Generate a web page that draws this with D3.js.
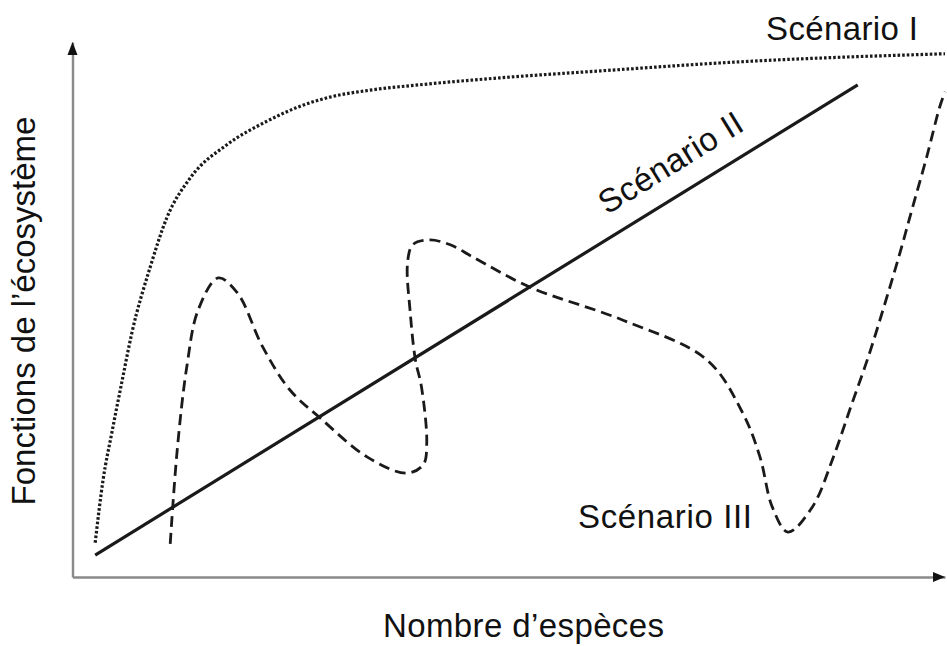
<!DOCTYPE html>
<html>
<head>
<meta charset="utf-8">
<script src="https://cdn.jsdelivr.net/npm/d3@7"></script>
<style>
  body { margin: 0; background: #fff; }
  svg { display: block; }
  text { font-family: "Liberation Sans", Arial, Helvetica, sans-serif; fill: #111; }
</style>
</head>
<body>
<svg width="947" height="646"></svg>
<script>
// Scénario I : saturation (dotted)
const scenario1 = [
  [2.6, 6.4], [3.5, 18.1], [4.5, 26.9], [5.7, 36.8], [6.8, 45.6],
  [8.9, 57.9], [10.8, 67.1], [13.5, 74.6], [17.7, 80.8], [22.3, 85.2],
  [26.1, 88.0], [29.5, 89.7], [34.1, 91.0], [39.8, 92.0], [49.0, 93.3],
  [60.5, 94.6], [76.5, 96.3], [100, 97.8]
];

// Scénario II : linear (solid)
const scenario2 = [[2.6, 4.1], [90.0, 92.0]];

// Scénario III : idiosyncratic (dashed)
const scenario3 = [
  [11.2, 6.2], [12.0, 23.7], [13.1, 39.3], [14.4, 49.9], [16.7, 55.9],
  [18.9, 53.1], [21.8, 43.0], [24.9, 35.0], [28.4, 29.7], [33.8, 22.4],
  [38.3, 19.4], [40.2, 21.0], [40.6, 25.0], [40.0, 35.5], [39.3, 40.6],
  [38.7, 49.6], [38.4, 58.7], [39.0, 62.1], [40.9, 63.0], [43.3, 62.1],
  [45.9, 59.8], [52.4, 54.2], [63.1, 48.0], [72.7, 40.6], [76.8, 30.7],
  [78.8, 22.4], [80.2, 13.1], [82.0, 8.4], [84.8, 13.1], [87.2, 22.4],
  [89.2, 31.8], [91.2, 41.1], [93.0, 50.5], [94.7, 59.8], [96.3, 69.2],
  [97.9, 78.5], [99.4, 87.9], [100, 90.7]
];

const labels = {
  x: "Nombre d’espèces",
  y: "Fonctions de l’écosystème",
  s1: "Scénario I",
  s2: "Scénario II",
  s3: "Scénario III"
};

const svg = d3.select("svg");

const x = d3.scaleLinear().domain([0, 100]).range([72.5, 945]);
const y = d3.scaleLinear().domain([0, 100]).range([577, 42]);

// Axes (no ticks, arrows at the ends)
const axisColor = "#8a8a8a";

svg.append("g")
  .attr("transform", `translate(0,${y(0)})`)
  .call(d3.axisBottom(x).tickValues([]).tickSizeOuter(0))
  .call((g) => g.select(".domain").attr("stroke", axisColor).attr("stroke-width", 2.4));

svg.append("g")
  .attr("transform", `translate(${x(0)},0)`)
  .call(d3.axisLeft(y).tickValues([]).tickSizeOuter(0))
  .call((g) => g.select(".domain").attr("stroke", axisColor).attr("stroke-width", 2.4));

// arrow heads
svg.append("path")
  .attr("d", `M${x(100)},${y(0)} L${x(100) - 12},${y(0) - 5} L${x(100) - 12},${y(0) + 5} Z`)
  .attr("fill", "#111");
svg.append("path")
  .attr("d", `M${x(0)},${y(100)} L${x(0) - 5},${y(100) + 13} L${x(0) + 5},${y(100) + 13} Z`)
  .attr("fill", "#111");

// Scénario I is a function of x -> monotone curve
const smoothX = d3.line()
  .x((d) => x(d[0]))
  .y((d) => y(d[1]))
  .curve(d3.curveMonotoneX);

// the others can loop back, so use Catmull-Rom
const line = d3.line()
  .x((d) => x(d[0]))
  .y((d) => y(d[1]))
  .curve(d3.curveCatmullRom.alpha(0.5));

svg.append("path")
  .datum(scenario1)
  .attr("d", smoothX)
  .attr("fill", "none")
  .attr("stroke", "#1a1a1a")
  .attr("stroke-width", 3.2)
  .attr("stroke-dasharray", "2.6,2");

svg.append("path")
  .datum(scenario2)
  .attr("d", line)
  .attr("fill", "none")
  .attr("stroke", "#1a1a1a")
  .attr("stroke-width", 3.2);

svg.append("path")
  .datum(scenario3)
  .attr("d", line)
  .attr("fill", "none")
  .attr("stroke", "#1a1a1a")
  .attr("stroke-width", 2.8)
  .attr("stroke-dasharray", "11,6");

// Labels
svg.append("text")
  .attr("x", 766)
  .attr("y", 40)
  .attr("font-size", 33)
  .attr("textLength", 152)
  .text(labels.s1);

const angle = Math.atan2(y(scenario2[0][1]) - y(scenario2[1][1]), x(scenario2[1][0]) - x(scenario2[0][0])) * 180 / Math.PI;
svg.append("text")
  .attr("transform", `translate(607,215) rotate(${-angle})`)
  .attr("font-size", 33)
  .attr("textLength", 163)
  .text(labels.s2);

svg.append("text")
  .attr("x", 578)
  .attr("y", 528)
  .attr("font-size", 33)
  .attr("textLength", 174)
  .text(labels.s3);

svg.append("text")
  .attr("x", 383)
  .attr("y", 637)
  .attr("font-size", 33)
  .attr("textLength", 281)
  .text(labels.x);

svg.append("text")
  .attr("transform", "translate(35,311) rotate(-90)")
  .attr("text-anchor", "middle")
  .attr("font-size", 33)
  .text(labels.y);
</script>
</body>
</html>
